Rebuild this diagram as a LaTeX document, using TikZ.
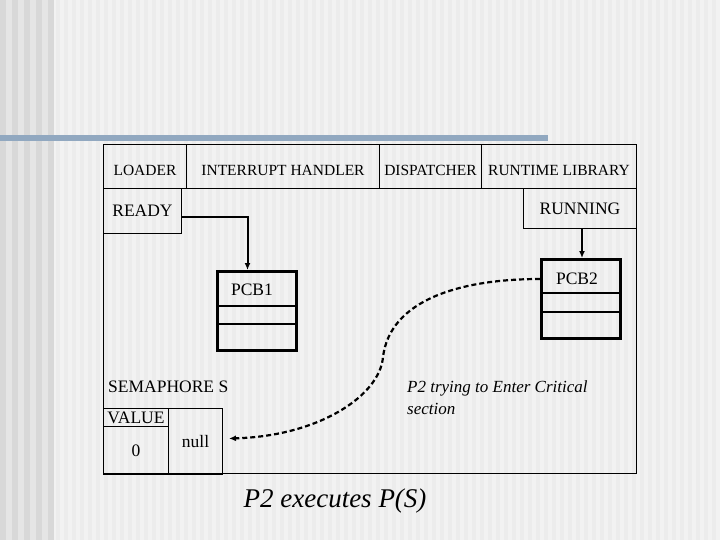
\documentclass[tikz,border=0pt]{standalone}
\usepackage{fontspec}
\setmainfont{Liberation Serif}
\usetikzlibrary{arrows.meta}
\usetikzlibrary{calc}
\usetikzlibrary{positioning}
\definecolor{SlideBg}{RGB}{242,242,242}
\definecolor{SlideStripe}{RGB}{236,236,236}
\definecolor{SideDark}{RGB}{216,216,216}
\definecolor{SideLight}{RGB}{229,229,229}
\definecolor{BarBlue}{RGB}{145,168,192}
\tikzset{
	cell/.style={draw=black, line width=1pt, inner sep=0pt, anchor=north west},
	headcell/.style={cell, font=\fontsize{15.5}{17}\selectfont, text height=19pt, text depth=0pt},
	word/.style={font=\fontsize{17.5}{21}\selectfont, inner sep=0pt},
	pcbbox/.style={draw=black, line width=3pt, inner sep=0pt, anchor=north west,
		minimum width=79, minimum height=79},
	pcbline/.style={line width=2pt},
	ptr/.style={->, line width=2pt},
	waitptr/.style={->, line width=2.2pt, dash pattern=on 5pt off 3pt},
	note/.style={font=\itshape\fontsize{17}{22}\selectfont, inner sep=0pt, align=left},
	bigcap/.style={font=\itshape\fontsize{27}{32}\selectfont, inner sep=0pt}
}

\begin{document}
\begin{tikzpicture}[x=1pt, y=-1pt, >={Latex[length=7pt,width=6pt]}]
	% slide background
	\fill[SlideBg] (0,0) rectangle (720,540);
	\foreach \x in {56,64,...,712}
		\fill[SlideStripe] (\x,0) rectangle (\x+4,540);
	\fill[SideLight] (0,0) rectangle (53,540);
	\foreach \x in {0,12,...,48}
		\fill[SideDark] (\x,0) rectangle (\x+6,540);
	\fill[BarBlue] (0,135) rectangle (548,141);
	\useasboundingbox (0,0) rectangle (720,540);

	% memory frame and top row
	\node[cell, minimum width=533, minimum height=329] (frame) at (103,144) {};
	\node[headcell, minimum width=83, minimum height=44] (loader) at (103,144) {LOADER};
	\node[headcell, minimum width=193, minimum height=44] (inthandler) at (186,144) {INTERRUPT HANDLER};
	\node[headcell, minimum width=102, minimum height=44] (dispatcher) at (379,144) {DISPATCHER};
	\node[headcell, minimum width=155, minimum height=44] (rtlib) at (481,144) {RUNTIME LIBRARY};

	\node[cell, word, minimum width=78, minimum height=45] (ready) at (103,188) {READY};
	\node[cell, word, minimum width=113, minimum height=40] (running) at (523,188) {RUNNING};

	% process control blocks
	\node[pcbbox] (pcb1) at (216,270) {};
	\node[word, below=14pt of pcb1.north, xshift=-5pt] (pcb1name) {PCB1};
	\draw[pcbline] ($(pcb1.north west)+(0,36)$) -- ($(pcb1.north east)+(0,36)$);
	\draw[pcbline] ($(pcb1.north west)+(0,54)$) -- ($(pcb1.north east)+(0,54)$);

	\node[pcbbox] (pcb2) at (540,258) {};
	\node[word, below=15pt of pcb2.north, xshift=-4pt] (pcb2name) {PCB2};
	\draw[pcbline] ($(pcb2.north west)+(0,35)$) -- ($(pcb2.north east)+(0,35)$);
	\draw[pcbline] ($(pcb2.north west)+(0,54)$) -- ($(pcb2.north east)+(0,54)$);

	\draw[ptr] ([yshift=-6.5pt]ready.east) -| ([xshift=-9.5pt]pcb1.north);
	\draw[ptr] ([xshift=2pt]running.south) -- ([xshift=2pt]running.south |- pcb2.north);

	% semaphore
	\node[word, anchor=west] (semname) at (108,387) {SEMAPHORE S};
	\node[cell, word, minimum width=65, minimum height=18] (valhdr) at (103,408) {VALUE};
	\node[cell, word, minimum width=65, minimum height=48] (valcell) at (103,426) {0};
	\node[cell, word, minimum width=54, minimum height=66] (nullcell) at (168,408) {null};

	% P2 waits on S
	\coordinate (bend) at (383,357);
	\draw[waitptr] ($(pcb2.north west)+(0,21)$) .. controls (460,279) and (390,300) .. (bend)
		.. controls (380,395) and (320,436) .. ([xshift=6pt,yshift=3pt]nullcell.east);

	\node[note, anchor=west] (trying) at (407,398) {P2 trying to Enter Critical\\section};
	\node[bigcap] (caption) at (335,501) {P2 executes P(S)};
\end{tikzpicture}
\end{document}
